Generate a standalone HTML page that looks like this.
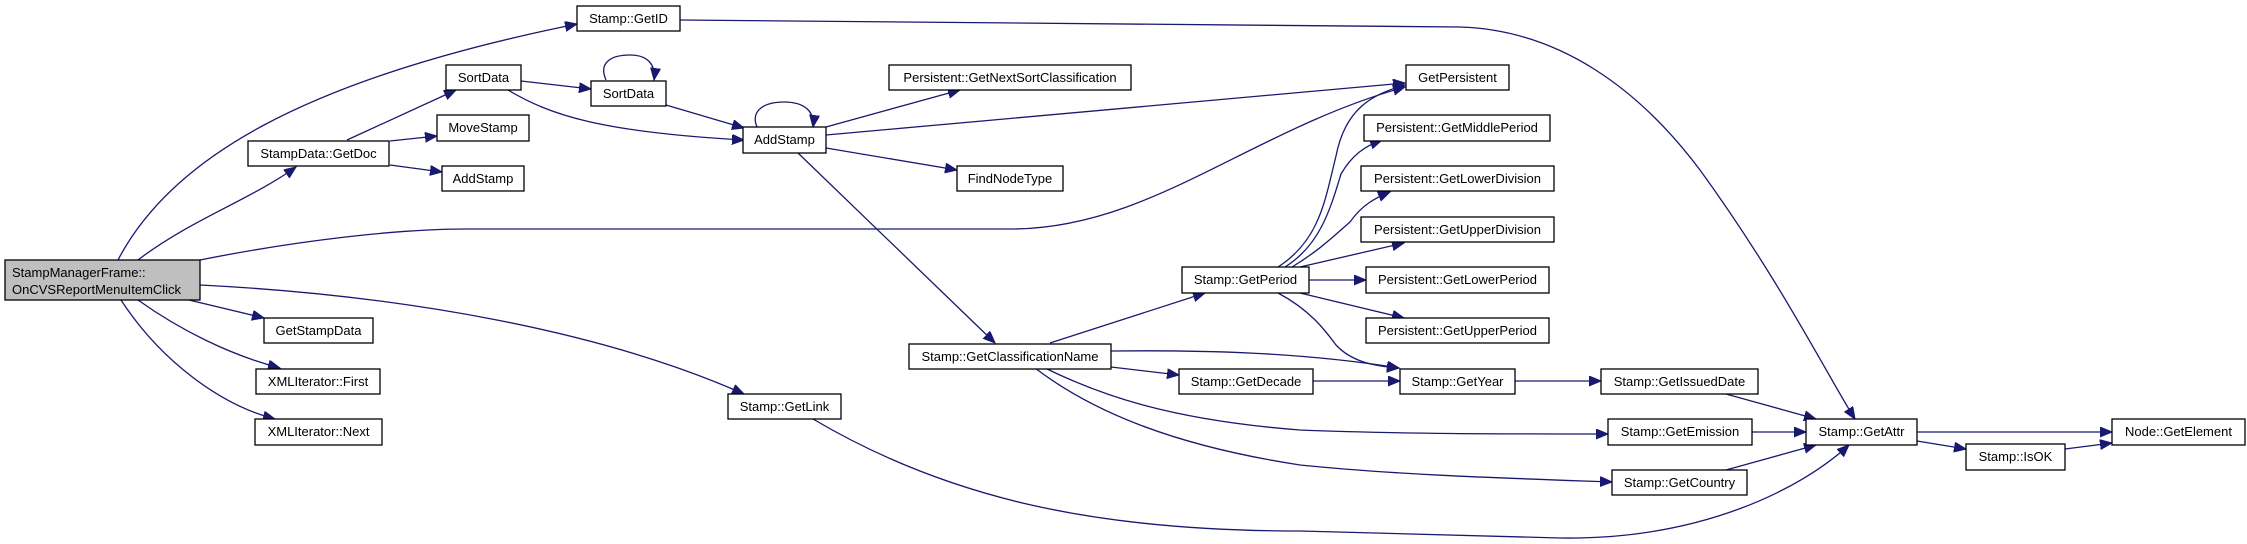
<!DOCTYPE html>
<html><head><meta charset="utf-8"><style>
html,body{margin:0;padding:0;background:#fff;}
svg{display:block;}
text{font-family:"Liberation Sans",sans-serif;font-size:13px;fill:#000;}
.b{fill:#fff;stroke:#000;stroke-width:1.3;}
.e{fill:none;stroke:#191970;stroke-width:1.3;}
</style></head><body>
<svg width="2247" height="544" viewBox="0 0 2247 544" xmlns="http://www.w3.org/2000/svg">
<defs>
<marker id="a" markerUnits="userSpaceOnUse" markerWidth="14" markerHeight="12" refX="12" refY="5" orient="auto">
<path d="M0,0 L12,5 L0,10 Z" fill="#191970" stroke="#191970"/>
</marker>
</defs>
<g class="e" marker-end="url(#a)">
<path d="M118,260 C170,160 300,80 577,24"/>
<path d="M138,260 C190,220 250,200 296,167"/>
<path d="M200,260 C300,240 400,229 465,229 L1011,229 C1150,229 1250,130 1405,87"/>
<path d="M189,300 L264,318"/>
<path d="M138,300 C180,330 230,355 280,368"/>
<path d="M121,300 C160,360 220,405 275,419"/>
<path d="M200,285 C400,295 600,330 744,394"/>
<path d="M347,140 L456,90"/>
<path d="M390,141 L437,136"/>
<path d="M390,165 L442,172"/>
<path d="M521,81 L591,89"/>
<path d="M606,80 C598,62 612,55 630,55 C648,55 656,65 654,80"/>
<path d="M508,90 C550,115 600,132 744,140"/>
<path d="M666,105 L744,128"/>
<path d="M757,127 C750,110 765,102 784,102 C805,102 815,112 813,127"/>
<path d="M826,127 L960,90"/>
<path d="M826,135 L1405,83"/>
<path d="M826,148 L957,170"/>
<path d="M798,153 L995,343"/>
<path d="M1050,343 L1205,293"/>
<path d="M1111,351 C1200,350 1300,352 1399,368"/>
<path d="M1111,367 L1179,375"/>
<path d="M1045,368 C1100,395 1170,420 1300,430 C1400,434 1500,434 1608,434"/>
<path d="M1035,368 C1090,410 1170,445 1300,465 C1400,475 1500,478 1612,482"/>
<path d="M1278,267 C1320,240 1325,200 1336,156 C1345,110 1370,95 1405,85"/>
<path d="M1285,267 C1320,245 1330,210 1341,174 C1352,155 1365,146 1382,140"/>
<path d="M1292,267 C1320,250 1335,235 1350,222 C1362,205 1375,198 1390,192"/>
<path d="M1300,267 L1404,243"/>
<path d="M1309,280 L1366,280"/>
<path d="M1300,293 L1404,318"/>
<path d="M1278,293 C1310,310 1325,330 1336,345 C1350,360 1370,366 1399,368"/>
<path d="M1313,381 L1400,381"/>
<path d="M1515,381 L1601,381"/>
<path d="M1726,394 L1816,419"/>
<path d="M1752,432 L1806,432"/>
<path d="M1726,470 L1816,445"/>
<path d="M813,419 C950,500 1100,531 1300,531 L1560,538 C1700,540 1800,490 1849,445"/>
<path d="M680,20 L1460,27 C1560,30 1640,90 1700,170 C1780,280 1830,380 1855,419"/>
<path d="M1917,432 L2112,432"/>
<path d="M1917,441 L1966,449"/>
<path d="M2065,449 L2112,443"/>
</g>
<rect x="5" y="260" width="195" height="40" fill="#bfbfbf" stroke="#000" stroke-width="1.3"/>
<text x="12" y="277">StampManagerFrame::</text>
<text x="12" y="294">OnCVSReportMenuItemClick</text>
<g>
<rect class="b" x="577" y="6" width="103" height="25"/><text x="628.5" y="23" text-anchor="middle">Stamp::GetID</text>
<rect class="b" x="446" y="65" width="75" height="25"/><text x="483.5" y="82" text-anchor="middle">SortData</text>
<rect class="b" x="591" y="81" width="75" height="25"/><text x="628.5" y="98" text-anchor="middle">SortData</text>
<rect class="b" x="437" y="115" width="92" height="26"/><text x="483" y="132" text-anchor="middle">MoveStamp</text>
<rect class="b" x="248" y="141" width="141" height="25"/><text x="318.5" y="158" text-anchor="middle">StampData::GetDoc</text>
<rect class="b" x="442" y="166" width="82" height="25"/><text x="483" y="183" text-anchor="middle">AddStamp</text>
<rect class="b" x="264" y="318" width="109" height="25"/><text x="318.5" y="335" text-anchor="middle">GetStampData</text>
<rect class="b" x="256" y="369" width="124" height="25"/><text x="318" y="386" text-anchor="middle">XMLIterator::First</text>
<rect class="b" x="255" y="419" width="127" height="26"/><text x="318.5" y="436" text-anchor="middle">XMLIterator::Next</text>
<rect class="b" x="728" y="394" width="113" height="25"/><text x="784.5" y="411" text-anchor="middle">Stamp::GetLink</text>
<rect class="b" x="743" y="127" width="83" height="26"/><text x="784.5" y="144" text-anchor="middle">AddStamp</text>
<rect class="b" x="889" y="65" width="242" height="25"/><text x="1010" y="82" text-anchor="middle">Persistent::GetNextSortClassification</text>
<rect class="b" x="957" y="166" width="106" height="25"/><text x="1010" y="183" text-anchor="middle">FindNodeType</text>
<rect class="b" x="1406" y="65" width="103" height="25"/><text x="1457.5" y="82" text-anchor="middle">GetPersistent</text>
<rect class="b" x="1364" y="115" width="186" height="26"/><text x="1457" y="132" text-anchor="middle">Persistent::GetMiddlePeriod</text>
<rect class="b" x="1361" y="166" width="193" height="25"/><text x="1457.5" y="183" text-anchor="middle">Persistent::GetLowerDivision</text>
<rect class="b" x="1361" y="217" width="193" height="25"/><text x="1457.5" y="234" text-anchor="middle">Persistent::GetUpperDivision</text>
<rect class="b" x="1366" y="267" width="183" height="26"/><text x="1457.5" y="284" text-anchor="middle">Persistent::GetLowerPeriod</text>
<rect class="b" x="1366" y="318" width="183" height="25"/><text x="1457.5" y="335" text-anchor="middle">Persistent::GetUpperPeriod</text>
<rect class="b" x="1182" y="267" width="127" height="26"/><text x="1245.5" y="284" text-anchor="middle">Stamp::GetPeriod</text>
<rect class="b" x="909" y="344" width="202" height="25"/><text x="1010" y="361" text-anchor="middle">Stamp::GetClassificationName</text>
<rect class="b" x="1179" y="369" width="134" height="25"/><text x="1246" y="386" text-anchor="middle">Stamp::GetDecade</text>
<rect class="b" x="1400" y="369" width="115" height="25"/><text x="1457.5" y="386" text-anchor="middle">Stamp::GetYear</text>
<rect class="b" x="1601" y="369" width="157" height="25"/><text x="1679.5" y="386" text-anchor="middle">Stamp::GetIssuedDate</text>
<rect class="b" x="1608" y="419" width="144" height="26"/><text x="1680" y="436" text-anchor="middle">Stamp::GetEmission</text>
<rect class="b" x="1612" y="470" width="135" height="25"/><text x="1679.5" y="487" text-anchor="middle">Stamp::GetCountry</text>
<rect class="b" x="1806" y="419" width="111" height="26"/><text x="1861.5" y="436" text-anchor="middle">Stamp::GetAttr</text>
<rect class="b" x="1966" y="444" width="99" height="26"/><text x="2015.5" y="461" text-anchor="middle">Stamp::IsOK</text>
<rect class="b" x="2112" y="419" width="133" height="26"/><text x="2178.5" y="436" text-anchor="middle">Node::GetElement</text>
</g>
</svg>
</body></html>
